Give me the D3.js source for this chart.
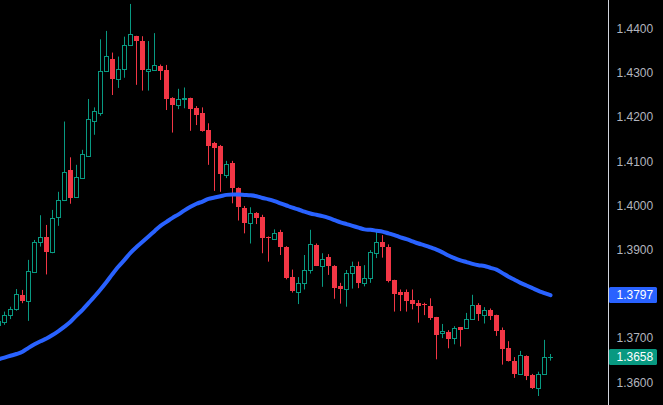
<!DOCTYPE html>
<html>
<head>
<meta charset="utf-8">
<script src="https://cdn.jsdelivr.net/npm/d3@7/dist/d3.min.js"></script>
<style>
  html, body { margin: 0; padding: 0; background: #000; }
  svg { display: block; }
</style>
</head>
<body>
<svg id="chart" width="663" height="405"></svg>
<script>
// ---- Data (bar index -1 .. 91) ----
const barIndex = d3.range(-1, 92);
const opens = [1.3730,1.3736,1.3752,1.3765,1.3798,1.3785,1.3850,1.3917,1.3929,1.3895,1.3973,1.4012,1.4080,1.4019,1.4062,1.4113,1.4192,1.4210,1.4304,1.4331,1.4287,1.4308,1.4362,1.4383,1.4372,1.4305,1.4307,1.4316,1.4307,1.4244,1.4227,1.4241,1.4243,1.4221,1.4209,1.4171,1.4142,1.4135,1.4069,1.4097,1.4039,1.3995,1.3960,1.3982,1.3975,1.3929,1.3924,1.3941,1.3907,1.3838,1.3804,1.3824,1.3855,1.3911,1.3864,1.3883,1.3864,1.3818,1.3812,1.3847,1.3864,1.3825,1.3835,1.3892,1.3917,1.3906,1.3831,1.3805,1.3804,1.3786,1.3780,1.3777,1.3773,1.3747,1.3711,1.3714,1.3700,1.3724,1.3723,1.3743,1.3776,1.3752,1.3764,1.3752,1.3718,1.3677,1.3648,1.3619,1.3660,1.3617,1.3586,1.3619,1.3657];
const highs = [1.3745,1.3760,1.3771,1.3811,1.3809,1.3877,1.3922,1.3978,1.3956,1.3990,1.4031,1.4190,1.4109,1.4092,1.4126,1.4241,1.4222,1.4376,1.4395,1.4346,1.4337,1.4382,1.4456,1.4384,1.4383,1.4372,1.4390,1.4319,1.4318,1.4245,1.4264,1.4267,1.4244,1.4225,1.4222,1.4186,1.4144,1.4137,1.4101,1.4101,1.4041,1.3999,1.3996,1.3985,1.3979,1.3930,1.3946,1.3945,1.3908,1.3855,1.3838,1.3888,1.3945,1.3914,1.3892,1.3890,1.3865,1.3825,1.3854,1.3873,1.3873,1.3865,1.3899,1.3941,1.3933,1.3912,1.3832,1.3810,1.3810,1.3810,1.3786,1.3780,1.3790,1.3748,1.3732,1.3718,1.3727,1.3725,1.3757,1.3798,1.3779,1.3770,1.3767,1.3753,1.3724,1.3693,1.3657,1.3671,1.3661,1.3619,1.3624,1.3696,1.3664];
const lows = [1.3723,1.3730,1.3743,1.3762,1.3779,1.3739,1.3849,1.3907,1.3844,1.3892,1.3954,1.4010,1.4004,1.4018,1.4061,1.4110,1.4160,1.4203,1.4302,1.4250,1.4266,1.4289,1.4361,1.4273,1.4260,1.4260,1.4306,1.4284,1.4216,1.4165,1.4218,1.4220,1.4169,1.4182,1.4167,1.4092,1.4033,1.4031,1.4062,1.4005,1.3966,1.3937,1.3914,1.3958,1.3892,1.3873,1.3922,1.3888,1.3833,1.3803,1.3777,1.3810,1.3846,1.3863,1.3816,1.3843,1.3789,1.3778,1.3771,1.3812,1.3813,1.3817,1.3825,1.3881,1.3882,1.3826,1.3760,1.3761,1.3760,1.3765,1.3735,1.3752,1.3741,1.3652,1.3700,1.3677,1.3686,1.3681,1.3722,1.3742,1.3739,1.3733,1.3741,1.3705,1.3640,1.3647,1.3610,1.3618,1.3605,1.3585,1.3569,1.3618,1.3649];
const closes = [1.3739,1.3752,1.3765,1.3800,1.3785,1.3852,1.3917,1.3928,1.3895,1.3971,1.4012,1.4075,1.4018,1.4064,1.4117,1.4196,1.4214,1.4304,1.4338,1.4286,1.4309,1.4363,1.4388,1.4373,1.4307,1.4308,1.4318,1.4305,1.4241,1.4227,1.4241,1.4243,1.4218,1.4205,1.4169,1.4135,1.4131,1.4071,1.4095,1.4040,1.3997,1.3961,1.3982,1.3972,1.3927,1.3927,1.3937,1.3905,1.3836,1.3807,1.3824,1.3854,1.3912,1.3864,1.3878,1.3864,1.3814,1.3812,1.3847,1.3864,1.3825,1.3835,1.3894,1.3917,1.3905,1.3829,1.3800,1.3798,1.3785,1.3777,1.3773,1.3774,1.3746,1.3707,1.3715,1.3699,1.3722,1.3718,1.3743,1.3775,1.3754,1.3764,1.3751,1.3717,1.3675,1.3648,1.3619,1.3662,1.3614,1.3587,1.3619,1.3657,1.3658];
const maValues = [1.3652,1.3656,1.3660,1.3664,1.3669,1.3678,1.3686,1.3693,1.3699,1.3707,1.3716,1.3726,1.3737,1.3751,1.3764,1.3779,1.3794,1.3810,1.3827,1.3845,1.3862,1.3877,1.3893,1.3906,1.3918,1.3930,1.3942,1.3954,1.3963,1.3972,1.3980,1.3989,1.3997,1.4004,1.4009,1.4015,1.4018,1.4021,1.4024,1.4025,1.4025,1.4024,1.4023,1.4021,1.4017,1.4014,1.4010,1.4005,1.4000,1.3995,1.3991,1.3986,1.3982,1.3979,1.3976,1.3972,1.3967,1.3962,1.3958,1.3954,1.3950,1.3946,1.3945,1.3943,1.3941,1.3937,1.3933,1.3928,1.3924,1.3919,1.3914,1.3910,1.3905,1.3900,1.3894,1.3887,1.3881,1.3876,1.3872,1.3868,1.3865,1.3863,1.3859,1.3855,1.3847,1.3839,1.3832,1.3825,1.3819,1.3813,1.3807,1.3802,1.3797];
const priceTicks = [1.44, 1.43, 1.42, 1.41, 1.40, 1.39, 1.37, 1.36];
const lastMA = 1.3797;
const lastClose = 1.3658;

// ---- Layout ----
const W = 663, H = 405, plotRight = 608.5;
const upColor = "#089981", downColor = "#f23645", maColor = "#2962ff";

const x = d3.scaleLinear().domain([-1, 91]).range([-1.5, 550.5]);
const y = d3.scaleLinear().domain([1.36, 1.44]).range([382.3, 28.7]);

const svg = d3.select("#chart");
svg.append("rect").attr("width", W).attr("height", H).attr("fill", "#000");

svg.append("defs").append("clipPath").attr("id", "plotClip")
  .append("rect").attr("x", 0).attr("y", 0).attr("width", plotRight).attr("height", H);

const plot = svg.append("g").attr("clip-path", "url(#plotClip)");

const bars = barIndex.map((k, i) => ({k, o: opens[i], h: highs[i], l: lows[i], c: closes[i], ma: maValues[i]}));

const bodyW = 5;
const g = plot.append("g");
bars.forEach(d => {
  const cx = Math.round(x(d.k) - 0.5) + 0.5;
  const up = d.c >= d.o;
  const top = y(Math.max(d.o, d.c)), bot = y(Math.min(d.o, d.c));
  if (up) {
    const t = Math.round(top) + 0.5;
    let b = Math.round(bot) + 0.5;
    if (b < t) b = t;
    // upper wick
    g.append("line").attr("x1", cx).attr("x2", cx).attr("y1", y(d.h)).attr("y2", t)
      .attr("stroke", upColor).attr("stroke-width", 1);
    g.append("line").attr("x1", cx).attr("x2", cx).attr("y1", b).attr("y2", y(d.l))
      .attr("stroke", upColor).attr("stroke-width", 1);
    if (b - t < 1) {
      g.append("line").attr("x1", cx - 2.5).attr("x2", cx + 2.5).attr("y1", t).attr("y2", t)
        .attr("stroke", upColor).attr("stroke-width", 1);
    } else {
      g.append("rect").attr("x", cx - 2).attr("y", t).attr("width", bodyW - 1).attr("height", b - t)
        .attr("fill", "none").attr("stroke", upColor).attr("stroke-width", 1);
    }
  } else {
    g.append("line").attr("x1", cx).attr("x2", cx).attr("y1", y(d.h)).attr("y2", y(d.l))
      .attr("stroke", downColor).attr("stroke-width", 1);
    const t = Math.round(top);
    const hgt = Math.max(1, Math.round(bot) - t);
    g.append("rect").attr("x", cx - 2.5).attr("y", t).attr("width", bodyW).attr("height", hgt)
      .attr("fill", downColor);
  }
});

// Moving average line
const line = d3.line().x(d => x(d.k)).y(d => y(d.ma)).curve(d3.curveMonotoneX);
plot.append("path").datum(bars).attr("d", line)
  .attr("fill", "none").attr("stroke", maColor).attr("stroke-width", 4)
  .attr("stroke-linecap", "round").attr("stroke-linejoin", "round");

// Price axis
svg.append("line").attr("x1", plotRight).attr("x2", plotRight).attr("y1", 0).attr("y2", H)
  .attr("stroke", "#d1d4dc").attr("stroke-width", 1);

const axis = d3.axisRight(y).tickValues(priceTicks).tickFormat(d3.format(".4f")).tickSize(0).tickPadding(8);
const ag = svg.append("g").attr("transform", `translate(${plotRight},0)`).call(axis);
ag.select(".domain").remove();
ag.selectAll("text").attr("fill", "#b2b5be").attr("font-family", "Liberation Sans, Arial, sans-serif")
  .attr("font-size", 12);

// Last value labels
function valueLabel(v, color) {
  const gy = y(v);
  const lg = svg.append("g");
  lg.append("rect").attr("x", plotRight + 0.5).attr("y", Math.round(gy) - 8).attr("width", 48).attr("height", 16)
    .attr("rx", 1.5).attr("fill", color);
  lg.append("text").attr("x", plotRight + 8).attr("y", gy).attr("dy", "0.32em")
    .attr("fill", "#ffffff").attr("font-family", "Liberation Sans, Arial, sans-serif").attr("font-size", 12)
    .text(d3.format(".4f")(v));
}
valueLabel(lastMA, maColor);
valueLabel(lastClose, upColor);
</script>
</body>
</html>
